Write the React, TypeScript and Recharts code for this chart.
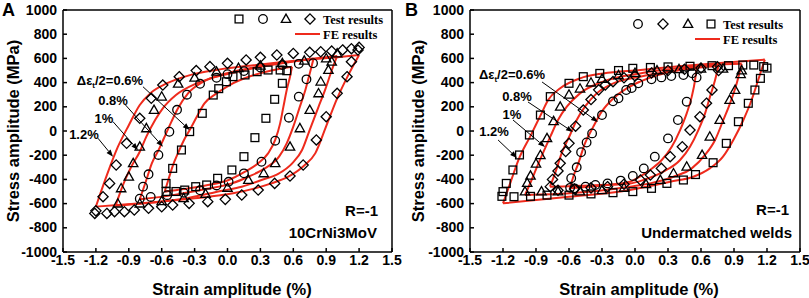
import { ComposedChart, XAxis, YAxis, Line, Scatter, ReferenceLine, ReferenceDot } from "recharts";

type Pt = [number, number];

const X_TICKS = [-1.5, -1.2, -0.9, -0.6, -0.3, 0, 0.3, 0.6, 0.9, 1.2, 1.5];
const Y_TICKS = [-1000, -800, -600, -400, -200, 0, 200, 400, 600, 800, 1000];
const AMPLITUDES = ["0.6%", "0.8%", "1%", "1.2%"];

// ---- Panel A: 10CrNi3MoV, FE branches (rising / falling), strain % vs MPa
const A_FE_06_UP: Pt[] = [[-0.573, -502], [-0.54, -405], [-0.5, -290], [-0.45, -180], [-0.4, -80], [-0.345, 8], [-0.28, 118], [-0.21, 229], [-0.1, 311], [0.02, 380], [0.2, 450], [0.4, 500], [0.588, 531]];
const A_FE_06_DN: Pt[] = [[-0.573, -502], [-0.4, -480], [-0.2, -450], [0.01, -405], [0.16, -336], [0.28, -267], [0.37, -185], [0.435, -74], [0.48, 63], [0.51, 201], [0.54, 339], [0.57, 449], [0.588, 531]];
const A_FE_08_UP: Pt[] = [[-0.8, -565], [-0.74, -405], [-0.69, -267], [-0.63, -160], [-0.58, -60], [-0.51, 80], [-0.45, 190], [-0.36, 311], [-0.22, 408], [-0.07, 463], [0.05, 490], [0.3, 535], [0.55, 570], [0.785, 600]];
const A_FE_08_DN: Pt[] = [[-0.8, -565], [-0.5, -530], [-0.2, -480], [0.04, -433], [0.19, -378], [0.34, -309], [0.47, -212], [0.54, -102], [0.6, 36], [0.66, 201], [0.71, 339], [0.75, 476], [0.785, 600]];
const A_FE_10_UP: Pt[] = [[-1.02, -617], [-0.95, -440], [-0.88, -300], [-0.8, -171], [-0.74, -47], [-0.66, 91], [-0.59, 187], [-0.47, 297], [-0.28, 394], [-0.1, 449], [0.05, 482], [0.3, 530], [0.6, 575], [0.85, 605], [1.0, 620]];
const A_FE_10_DN: Pt[] = [[-1.02, -617], [-0.75, -598], [-0.4, -560], [-0.05, -493], [0.13, -460], [0.31, -405], [0.47, -350], [0.59, -267], [0.68, -157], [0.75, 10], [0.83, 200], [0.89, 340], [0.95, 500], [1.0, 620]];
const A_FE_12_UP: Pt[] = [[-1.2, -625], [-1.1, -365], [-1.0, -132], [-0.9, 48], [-0.8, 215], [-0.7, 315], [-0.55, 395], [-0.35, 460], [-0.1, 505], [0.2, 540], [0.5, 570], [0.8, 595], [1.0, 610], [1.2, 628]];
const A_FE_12_DN: Pt[] = [[-1.2, -625], [-1.0, -612], [-0.7, -590], [-0.3, -556], [0.05, -515], [0.25, -474], [0.4, -433], [0.55, -380], [0.7, -285], [0.8, -185], [0.9, 40], [1.0, 270], [1.1, 460], [1.2, 628]];

// Panel A test points
const A_SQUARES: Pt[] = [[-0.56, -500], [-0.56, -433], [-0.5, -309], [-0.42, -157], [-0.345, -5], [-0.23, 146], [-0.13, 297], [-0.08, 350], [-0.01, 407], [0.05, 449], [0.16, 463], [0.27, 490], [0.37, 504], [0.48, 504], [0.54, 498], [0.5, 394], [0.43, 262], [0.35, 105], [0.25, -55], [0.15, -212], [0.04, -322], [-0.09, -391], [-0.19, -446], [-0.29, -460], [-0.39, -488], [-0.47, -500]];
const A_CIRCLES: Pt[] = [[-0.8, -560], [-0.77, -460], [-0.72, -358], [-0.63, -198], [-0.53, -6], [-0.46, 175], [-0.37, 300], [-0.25, 390], [-0.1, 440], [0.0, 470], [0.15, 495], [0.3, 525], [0.5, 545], [0.65, 555], [0.78, 560], [0.72, 427], [0.65, 284], [0.56, 110], [0.435, -80], [0.31, -254], [0.15, -350], [0.01, -420], [-0.1, -450], [-0.25, -490], [-0.4, -510], [-0.55, -530], [-0.7, -545]];
const A_TRIANGLES: Pt[] = [[-1.0, -600], [-0.97, -474], [-0.9, -378], [-0.86, -267], [-0.8, -130], [-0.74, 22], [-0.67, 173], [-0.6, 284], [-0.45, 390], [-0.3, 440], [-0.1, 490], [0.1, 520], [0.3, 540], [0.5, 560], [0.7, 580], [0.9, 600], [1.0, 640], [0.95, 573], [0.92, 504], [0.85, 408], [0.83, 311], [0.75, 173], [0.66, 22], [0.57, -130], [0.435, -267], [0.33, -350], [0.19, -405], [0.0, -470], [-0.2, -520], [-0.4, -555], [-0.6, -580], [-0.8, -600]];
const A_DIAMONDS: Pt[] = [[-1.21, -681], [-1.2, -660], [-1.135, -543], [-1.075, -433], [-1.015, -281], [-0.92, -102], [-0.8, 105], [-0.695, 270], [-0.59, 380], [-0.44, 449], [-0.285, 499], [-0.16, 532], [0.0, 559], [0.17, 587], [0.3, 609], [0.45, 628], [0.6, 641], [0.75, 650], [0.85, 655], [0.95, 660], [1.05, 670], [1.13, 680], [1.2, 691], [1.19, 669], [1.13, 573], [1.09, 449], [1.0, 311], [0.9, 118], [0.81, -74], [0.69, -281], [0.57, -372], [0.43, -433], [0.28, -488], [0.13, -529], [-0.02, -565], [-0.18, -584], [-0.35, -598], [-0.5, -612], [-0.6, -626], [-0.72, -639], [-0.85, -653], [-0.94, -667], [-1.03, -667], [-1.1, -681]];

// ---- Panel B: undermatched welds
const B_FE_06_UP: Pt[] = [[-0.591, -474], [-0.561, -378], [-0.515, -267], [-0.455, -102], [-0.379, 36], [-0.303, 160], [-0.197, 270], [-0.076, 353], [0.045, 408], [0.2, 460], [0.4, 505], [0.561, 526]];
const B_FE_06_DN: Pt[] = [[-0.591, -474], [-0.3, -450], [-0.045, -419], [0.016, -391], [0.137, -322], [0.243, -240], [0.334, -130], [0.41, 8], [0.47, 146], [0.516, 284], [0.546, 421], [0.561, 526]];
const B_FE_08_UP: Pt[] = [[-0.773, -460], [-0.727, -350], [-0.667, -185], [-0.591, -33], [-0.53, 91], [-0.455, 201], [-0.348, 311], [-0.197, 394], [0.045, 449], [0.3, 490], [0.55, 520], [0.758, 537]];
const B_FE_08_DN: Pt[] = [[-0.773, -460], [-0.4, -450], [-0.045, -433], [0.076, -405], [0.258, -336], [0.41, -240], [0.5, -130], [0.576, 8], [0.637, 146], [0.682, 284], [0.728, 421], [0.758, 537]];
const B_FE_10_UP: Pt[] = [[-1.0, -529], [-0.94, -405], [-0.89, -295], [-0.77, -47], [-0.7, 91], [-0.62, 201], [-0.5, 311], [-0.29, 408], [0.045, 476], [0.4, 520], [0.7, 545], [0.97, 555]];
const B_FE_10_DN: Pt[] = [[-1.0, -529], [-0.59, -515], [-0.045, -460], [0.137, -433], [0.35, -378], [0.516, -309], [0.637, -198], [0.728, -74], [0.803, 91], [0.864, 229], [0.925, 394], [0.97, 555]];
const B_FE_12_UP: Pt[] = [[-1.2, -598], [-1.13, -420], [-1.06, -240], [-0.95, -40], [-0.85, 146], [-0.79, 256], [-0.68, 353], [-0.5, 435], [-0.29, 476], [0.05, 504], [0.4, 535], [0.8, 565], [1.18, 590]];
const B_FE_12_DN: Pt[] = [[-1.2, -598], [-0.6, -543], [-0.045, -488], [0.107, -460], [0.32, -419], [0.53, -378], [0.68, -309], [0.8, -212], [0.894, -74], [0.985, 91], [1.06, 256], [1.12, 421], [1.18, 590]];

const B_CIRCLES: Pt[] = [[-0.59, -470], [-0.58, -390], [-0.53, -300], [-0.49, -175], [-0.44, -95], [-0.39, -20], [-0.3, 132], [-0.2, 245], [-0.15, 270], [-0.08, 339], [-0.03, 355], [0.03, 394], [0.15, 427], [0.24, 443], [0.33, 454], [0.44, 463], [0.52, 477], [0.56, 443], [0.47, 242], [0.39, 91], [0.3, -61], [0.18, -212], [0.08, -309], [-0.02, -372], [-0.13, -410], [-0.25, -433], [-0.36, -446], [-0.45, -460], [-0.55, -474]];
const B_DIAMONDS: Pt[] = [[-0.77, -460], [-0.75, -400], [-0.7, -330], [-0.68, -267], [-0.63, -170], [-0.6, -102], [-0.54, 40], [-0.47, 173], [-0.4, 260], [-0.33, 340], [-0.27, 380], [-0.2, 408], [-0.1, 440], [0.0, 455], [0.15, 480], [0.3, 500], [0.45, 510], [0.6, 520], [0.75, 530], [0.76, 500], [0.7, 339], [0.65, 230], [0.59, 118], [0.5, 8], [0.43, -130], [0.32, -212], [0.24, -309], [0.14, -364], [0.05, -405], [-0.1, -440], [-0.25, -460], [-0.4, -470], [-0.55, -480], [-0.7, -490]];
const B_TRIANGLES: Pt[] = [[-1.0, -500], [-0.98, -430], [-0.95, -370], [-0.9, -270], [-0.86, -200], [-0.8, -60], [-0.74, 80], [-0.68, 200], [-0.6, 300], [-0.5, 350], [-0.4, 400], [-0.3, 430], [-0.15, 460], [0.0, 480], [0.2, 500], [0.4, 510], [0.6, 515], [0.8, 515], [0.97, 500], [0.96, 470], [0.91, 339], [0.86, 256], [0.77, 91], [0.68, -47], [0.61, -198], [0.47, -295], [0.35, -350], [0.23, -405], [0.1, -440], [-0.1, -470], [-0.3, -490], [-0.5, -500], [-0.7, -500], [-0.85, -500]];
const B_SQUARES: Pt[] = [[-1.21, -540], [-1.2, -501], [-1.17, -433], [-1.11, -322], [-1.05, -198], [-0.96, -33], [-0.86, 132], [-0.77, 284], [-0.6, 394], [-0.47, 449], [-0.32, 476], [-0.15, 500], [-0.02, 518], [0.14, 525], [0.3, 530], [0.5, 535], [0.7, 540], [0.85, 540], [0.98, 545], [1.08, 545], [1.17, 532], [1.2, 520], [1.14, 435], [1.09, 339], [1.03, 229], [0.94, 77], [0.83, -102], [0.71, -262], [0.55, -360], [0.44, -405], [0.29, -433], [0.15, -474], [-0.02, -501], [-0.2, -510], [-0.4, -520], [-0.6, -530], [-0.8, -530], [-0.95, -540], [-1.1, -543]];

// annotation anchors [strain, stress] for text, and arrows [from, to]
const A_NOTE_POS: Pt[] = [[-1.072, 421], [-1.044, 256], [-1.126, 107], [-1.309, -25]];
const A_ARROWS: [Pt, Pt][] = [[[-0.771, 366], [-0.345, 8]], [[-0.93, 215], [-0.588, -130]], [[-1.044, 77], [-0.816, -157]], [[-1.181, -60], [-1.044, -212]]];
const B_NOTE_POS: Pt[] = [[-1.118, 463], [-1.073, 281], [-1.118, 140], [-1.282, 0]];
const B_ARROWS: [Pt, Pt][] = [[[-0.845, 405], [-0.336, 74]], [[-0.973, 240], [-0.564, -8]], [[-1.109, 91], [-0.818, -132]], [[-1.245, -74], [-1.073, -223]]];

const RED = "#ee2a1c";
const SANS = "'Liberation Sans', Arial, sans-serif";
const SERIF = "'Liberation Serif', 'Times New Roman', serif";

const toXY = (pts: Pt[]) => pts.map(([x, y]) => ({ x, y }));

type Mk = "square" | "circle" | "triangle" | "diamond";

function Marker({ kind, cx, cy }: { kind: Mk; cx: number; cy: number }) {
  const st = { fill: "none", stroke: "#000", strokeWidth: 1.3 };
  if (kind === "square") return <rect x={cx - 3.9} y={cy - 3.9} width={7.8} height={7.8} {...st} />;
  if (kind === "circle") return <circle cx={cx} cy={cy} r={4.3} {...st} />;
  if (kind === "triangle")
    return <polygon points={`${cx},${cy - 4.9} ${cx + 4.7},${cy + 3.4} ${cx - 4.7},${cy + 3.4}`} {...st} />;
  return <polygon points={`${cx},${cy - 5.1} ${cx + 5.1},${cy} ${cx},${cy + 5.1} ${cx - 5.1},${cy}`} {...st} />;
}

const Arrow = (p: any) => {
  const { x1, y1, x2, y2 } = p;
  const a = Math.atan2(y2 - y1, x2 - x1);
  const bx = x2 - 7 * Math.cos(a);
  const by = y2 - 7 * Math.sin(a);
  const px = -Math.sin(a) * 2.6;
  const py = Math.cos(a) * 2.6;
  return (
    <g>
      <line x1={x1} y1={y1} x2={bx} y2={by} stroke="#000" strokeWidth={1} />
      <polygon points={`${x2},${y2} ${bx + px},${by + py} ${bx - px},${by - py}`} fill="#000" />
    </g>
  );
};

const XTick = (p: any) => (
  <g>
    <line x1={p.x} x2={p.x} y1={p.y} y2={p.y - 4} stroke="#000" strokeWidth={1.5} />
    <text x={p.x} y={p.y + 13} textAnchor="middle" fontFamily={SANS} fontWeight="bold" fontSize={14} fill="#000">
      {Number(p.payload.value).toFixed(1)}
    </text>
  </g>
);

const YTick = (p: any) => (
  <g>
    <line x1={p.x} x2={p.x + 4} y1={p.y} y2={p.y} stroke="#000" strokeWidth={1.5} />
    <text x={p.x - 6} y={p.y + 4.5} textAnchor="end" fontFamily={SANS} fontWeight="bold" fontSize={14} fill="#000">
      {p.payload.value}
    </text>
  </g>
);

interface PanelProps {
  width: number;
  yWidth: number;
  right: number;
  fe: Pt[][];
  markers: { data: Pt[]; kind: Mk }[];
  notes: Pt[];
  arrows: [Pt, Pt][];
}

function Panel({ width, yWidth, right, fe, markers, notes, arrows }: PanelProps) {
  return (
    <ComposedChart width={width} height={298} margin={{ top: 10, right, bottom: 0, left: 0 }}>
      <XAxis
        type="number"
        dataKey="x"
        domain={[-1.5, 1.5]}
        ticks={X_TICKS}
        allowDataOverflow
        height={46}
        tickSize={0}
        tickMargin={0}
        tickLine={false}
        axisLine={{ stroke: "#000", strokeWidth: 1.5 }}
        tick={<XTick />}
        interval={0}
      />
      <YAxis
        type="number"
        dataKey="y"
        domain={[-1000, 1000]}
        ticks={Y_TICKS}
        allowDataOverflow
        width={yWidth}
        tickSize={0}
        tickMargin={0}
        tickLine={false}
        axisLine={{ stroke: "#000", strokeWidth: 1.5 }}
        tick={<YTick />}
        interval={0}
      />
      <ReferenceLine y={1000} stroke="#000" strokeWidth={1.5} />
      <ReferenceLine x={1.5} stroke="#000" strokeWidth={1.5} />
      {markers.map((m, i) => (
        <Scatter
          key={"m" + i}
          data={toXY(m.data)}
          dataKey="y"
          isAnimationActive={false}
          shape={(p: any) => <Marker kind={m.kind} cx={p.cx} cy={p.cy} />}
        />
      ))}
      {fe.map((b, i) => (
        <Line
          key={"fe" + i}
          data={toXY(b)}
          dataKey="y"
          type="monotone"
          stroke={RED}
          strokeWidth={2}
          dot={false}
          activeDot={false}
          isAnimationActive={false}
        />
      ))}
      {arrows.map(([s, e], i) => (
        <ReferenceLine key={"ar" + i} segment={[{ x: s[0], y: s[1] }, { x: e[0], y: e[1] }]} shape={Arrow} />
      ))}
      {notes.map(([x, y], i) => (
        <ReferenceDot
          key={"nt" + i}
          x={x}
          y={y}
          r={0}
          shape={(p: any) => (
            <text
              x={p.cx}
              y={p.cy + 4.5}
              textAnchor="middle"
              fontFamily={SANS}
              fontWeight="bold"
              fontSize={13}
              fill="#000"
            >
              {i === 0 ? (
                <>
                  Δε<tspan fontSize={8} dy={3}>t</tspan>
                  <tspan dy={-3}>/2={AMPLITUDES[0]}</tspan>
                </>
              ) : (
                AMPLITUDES[i]
              )}
            </text>
          )}
        />
      ))}
    </ComposedChart>
  );
}

function Legend({ x0, y0, kinds }: { x0: number; y0: number; kinds: [Mk, number][] }) {
  return (
    <g>
      {kinds.map(([k, x], i) => (
        <Marker key={i} kind={k} cx={x} cy={y0} />
      ))}
      <text x={x0} y={y0 + 4.5} fontFamily={SERIF} fontWeight="bold" fontSize={12.5} fill="#000">
        Test results
      </text>
      <line x1={x0 - 28} x2={x0 - 3} y1={y0 + 15} y2={y0 + 15} stroke={RED} strokeWidth={2} />
      <text x={x0} y={y0 + 19.5} fontFamily={SERIF} fontWeight="bold" fontSize={12.5} fill="#000">
        FE results
      </text>
    </g>
  );
}

export default function App() {
  const bold = { fontFamily: SANS, fontWeight: "bold" as const, fill: "#000" };
  return (
    <div style={{ position: "absolute", left: 0, top: 0, width: 809, height: 298, background: "#fff" }}>
      <div style={{ position: "absolute", left: 0, top: 0 }}>
        <Panel
          width={404}
          yWidth={63}
          right={12}
          fe={[A_FE_06_UP, A_FE_06_DN, A_FE_08_UP, A_FE_08_DN, A_FE_10_UP, A_FE_10_DN, A_FE_12_UP, A_FE_12_DN]}
          markers={[
            { data: A_SQUARES, kind: "square" },
            { data: A_CIRCLES, kind: "circle" },
            { data: A_TRIANGLES, kind: "triangle" },
            { data: A_DIAMONDS, kind: "diamond" },
          ]}
          notes={A_NOTE_POS}
          arrows={A_ARROWS}
        />
      </div>
      <div style={{ position: "absolute", left: 405, top: 0 }}>
        <Panel
          width={404}
          yWidth={65}
          right={9}
          fe={[B_FE_06_UP, B_FE_06_DN, B_FE_08_UP, B_FE_08_DN, B_FE_10_UP, B_FE_10_DN, B_FE_12_UP, B_FE_12_DN]}
          markers={[
            { data: B_CIRCLES, kind: "circle" },
            { data: B_DIAMONDS, kind: "diamond" },
            { data: B_TRIANGLES, kind: "triangle" },
            { data: B_SQUARES, kind: "square" },
          ]}
          notes={B_NOTE_POS}
          arrows={B_ARROWS}
        />
      </div>
      <svg width={809} height={298} style={{ position: "absolute", left: 0, top: 0, pointerEvents: "none" }}>
        <text x={2} y={16} {...bold} fontSize={18}>A</text>
        <text x={405} y={16} {...bold} fontSize={18}>B</text>
        <text transform="translate(19,131) rotate(-90)" textAnchor="middle" {...bold} fontSize={16.5}>
          Stress amplitude (MPa)
        </text>
        <text transform="translate(424,131) rotate(-90)" textAnchor="middle" {...bold} fontSize={16.5}>
          Stress amplitude (MPa)
        </text>
        <text x={232} y={295} textAnchor="middle" {...bold} fontSize={16.5}>Strain amplitude (%)</text>
        <text x={639} y={295} textAnchor="middle" {...bold} fontSize={16.5}>Strain amplitude (%)</text>
        <text x={378} y={216} textAnchor="end" {...bold} fontSize={15}>R=-1</text>
        <text x={377} y={238} textAnchor="end" {...bold} fontSize={15}>10CrNi3MoV</text>
        <text x={789} y={215} textAnchor="end" {...bold} fontSize={15}>R=-1</text>
        <text x={792} y={238} textAnchor="end" {...bold} fontSize={15}>Undermatched welds</text>
        <Legend x0={323} y0={19} kinds={[["square", 239], ["circle", 263], ["triangle", 286], ["diamond", 310]]} />
        <Legend x0={723} y0={24} kinds={[["circle", 638], ["diamond", 663], ["triangle", 688], ["square", 711]]} />
      </svg>
    </div>
  );
}
